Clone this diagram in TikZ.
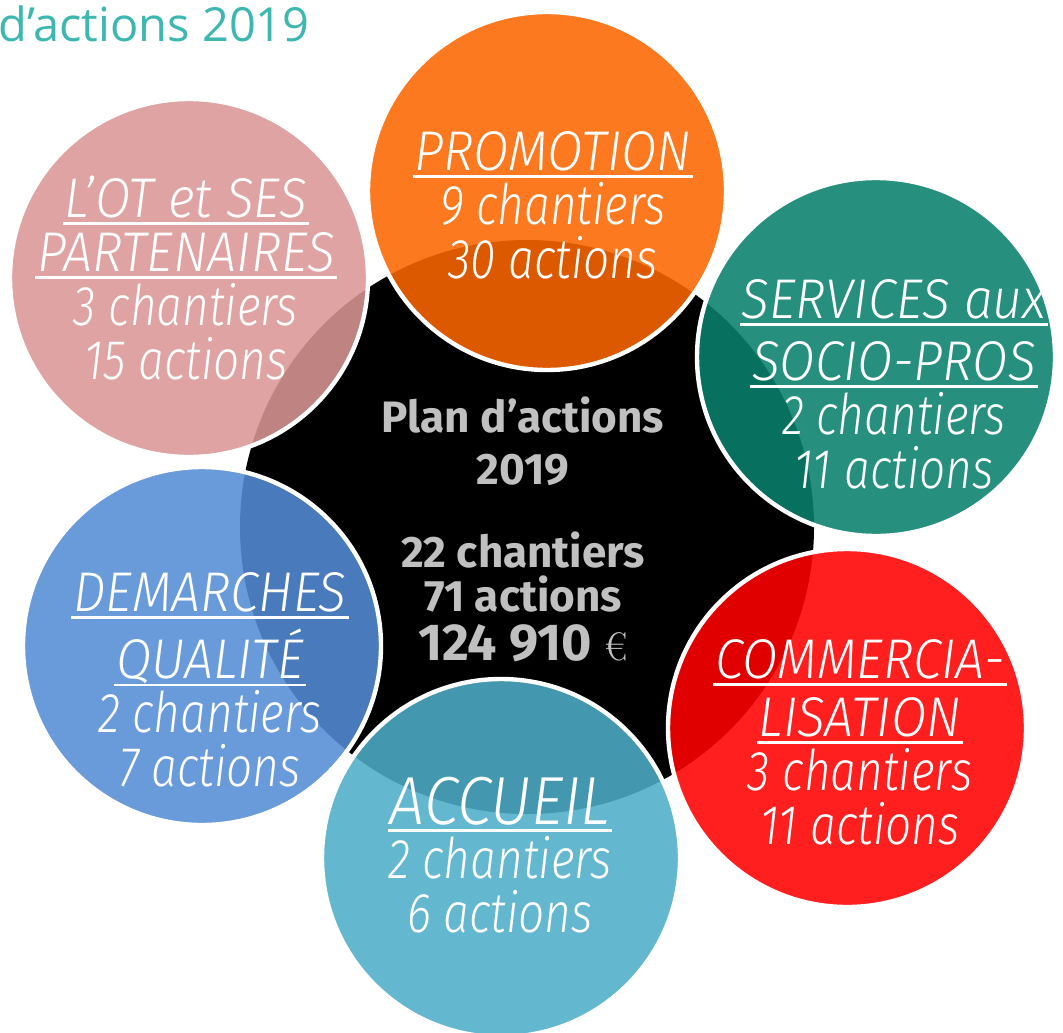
\documentclass[tikz,border=0pt]{standalone}
\usepackage{fontspec}
\newfontfamily\bubblefont{Fira Sans Light}[FakeStretch=0.82]
\newfontfamily\capfont{Fira Sans Light}[FakeStretch=0.92]
\newfontfamily\corefont{Fira Sans}
\newfontfamily\headfont{Open Sans}
\definecolor{pinkC}{RGB}{218,150,149}
\definecolor{orangeC}{RGB}{252,102,0}
\definecolor{tealC}{RGB}{9,128,108}
\definecolor{redC}{RGB}{255,0,0}
\definecolor{cyanC}{RGB}{77,173,200}
\definecolor{blueC}{RGB}{84,140,213}
\definecolor{coregray}{RGB}{192,192,192}
\definecolor{titleC}{RGB}{62,183,177}
\newcommand{\uln}[1]{\setbox0=\hbox{\capfont #1}\rlap{\kern-1pt\vrule height -2.4pt depth 3.8pt width \dimexpr\wd0+2pt\relax}\box0}
\begin{document}
\begin{tikzpicture}[x=0.5pt, y=-0.5pt,
    bubble/.style={circle, draw=white, line width=2.2pt, fill opacity=0.88, draw opacity=1, inner sep=0pt, minimum size=179pt},
    bubbletext/.style={text=white, align=center, font=\bubblefont\itshape\fontsize{28}{27}\selectfont},
    coretext/.style={text=coregray, align=center, font=\corefont\bfseries\fontsize{22}{26}\selectfont}]
  \useasboundingbox (0,0) rectangle (1063,1032);
  \node[anchor=base west, inner sep=0pt, text=titleC, font=\headfont\fontsize{23.5}{23.5}\selectfont] (title) at (-2,42) {d’actions 2019};
  % centre
  \node[circle, fill=black, inner sep=0pt, minimum size=287pt] (core) at (527,527) {};
  % the six bubbles
  \node[bubble, fill=pinkC] (ot) at (189,278) {};
  \node[bubble, fill=orangeC] (promo) at (547,191) {};
  \node[bubble, fill=tealC] (services) at (876,357) {};
  \node[bubble, fill=redC] (commerce) at (847,728) {};
  \node[bubble, fill=cyanC] (accueil) at (501,858) {};
  \node[bubble, fill=blueC] (qualite) at (202,646) {};
  \node[bubbletext] (otT) at (186,278) {\uln{L’OT et SES}\\\uln{PARTENAIRES}\\3 chantiers\\15 actions};
  \node[bubbletext] (promoT) at (553,205) {\uln{PROMOTION}\\9 chantiers\\30 actions};
  \node[bubbletext] (servicesT) at (894,384) {\uln{SERVICES aux}\\[4pt]\uln{SOCIO-PROS}\\2 chantiers\\11 actions};
  \node[bubbletext] (commerceT) at (860,742) {\uln{COMMERCIA-}\\[2pt]\uln{LISATION}\\3 chantiers\\11 actions};
  \node[bubbletext] (accueilT) at (500,855) {\uln{\fontsize{34}{27}\selectfont ACCUEIL}\\2 chantiers\\6 actions};
  \node[bubbletext] (qualiteT) at (210,680) {\uln{DEMARCHES}\\[4pt]\uln{QUALITÉ}\\2 chantiers\\7 actions};
  \node[coretext] (plan) at (523,441) {Plan d’actions\\2019};
  \node[coretext, font=\corefont\bfseries\fontsize{22}{22}\selectfont] (total) at (523,597) {22 chantiers\\71 actions\\[2.5pt]{\fontsize{26}{26}\selectfont 124 910 {\rmfamily\mdseries\fontsize{20}{20}\selectfont €}}};
\end{tikzpicture}
\end{document}
